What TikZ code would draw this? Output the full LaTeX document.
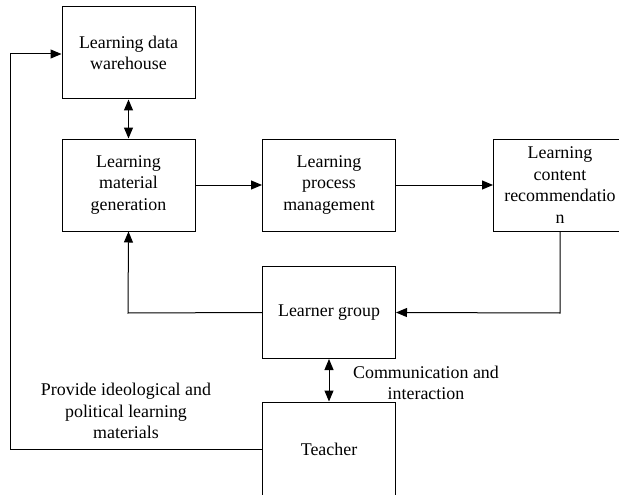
\documentclass[tikz,border=0pt]{standalone}
\usepackage{fontspec}
\setmainfont{Liberation Serif}
\newfontfamily\diagfont{Liberation Serif}
\usetikzlibrary{arrows.meta}
\tikzset{
  box/.style={draw, line width=1pt, minimum width=133pt, minimum height=92pt, inner sep=0pt, align=center, font=\diagfont\fontsize{17.9}{21.5}\selectfont},
  lbl/.style={align=center, inner sep=0pt, font=\diagfont\fontsize{17.9}{21.5}\selectfont},
  conn/.style={line width=1pt, -{Triangle[length=11pt,width=9pt]}},
  bconn/.style={line width=1pt, {Triangle[length=11pt,width=9pt]}-{Triangle[length=11pt,width=9pt]}}
}
\begin{document}
\begin{tikzpicture}[x=1pt,y=-1pt]
\useasboundingbox (0,0) rectangle (619,495);
\clip (0,0) rectangle (619,495);
\node[box] (wh) at (128.5,53) {Learning data\\warehouse};
\node[box] (mat) at (128.5,185) {Learning\\material\\generation};
\node[box] (proc) at (329,185) {Learning\\process\\management};
\node[box] (rec) at (560,185) {Learning\\content\\recommendatio\\n};
\node[box] (lg) at (329,312.5) {Learner group};
\node[box, minimum height=94pt] (tch) at (329,449) {Teacher};
\coordinate (c1) at (560,313);
\coordinate (c2) at (128,313);
\coordinate (c3) at (10,449);
\coordinate (c4) at (10,54);
\draw[bconn] (wh.south) -- (mat.north);
\draw[conn] (mat.east) -- (proc.west);
\draw[conn] (proc.east) -- (rec.west);
\draw[conn] (rec.south) -- (c1) -- (lg.east);
\draw[conn] (lg.west) -- (c2) -- (mat.south);
\draw[bconn] (lg.south) -- (tch.north);
\draw[conn] (tch.west) -- (c3) -- (c4) -- (wh.west |- c4);
\node[lbl] (comm) at (426,383) {Communication and\\interaction};
\node[lbl] (prov) at (126,411) {Provide ideological and\\political learning\\materials};
\end{tikzpicture}
\end{document}
